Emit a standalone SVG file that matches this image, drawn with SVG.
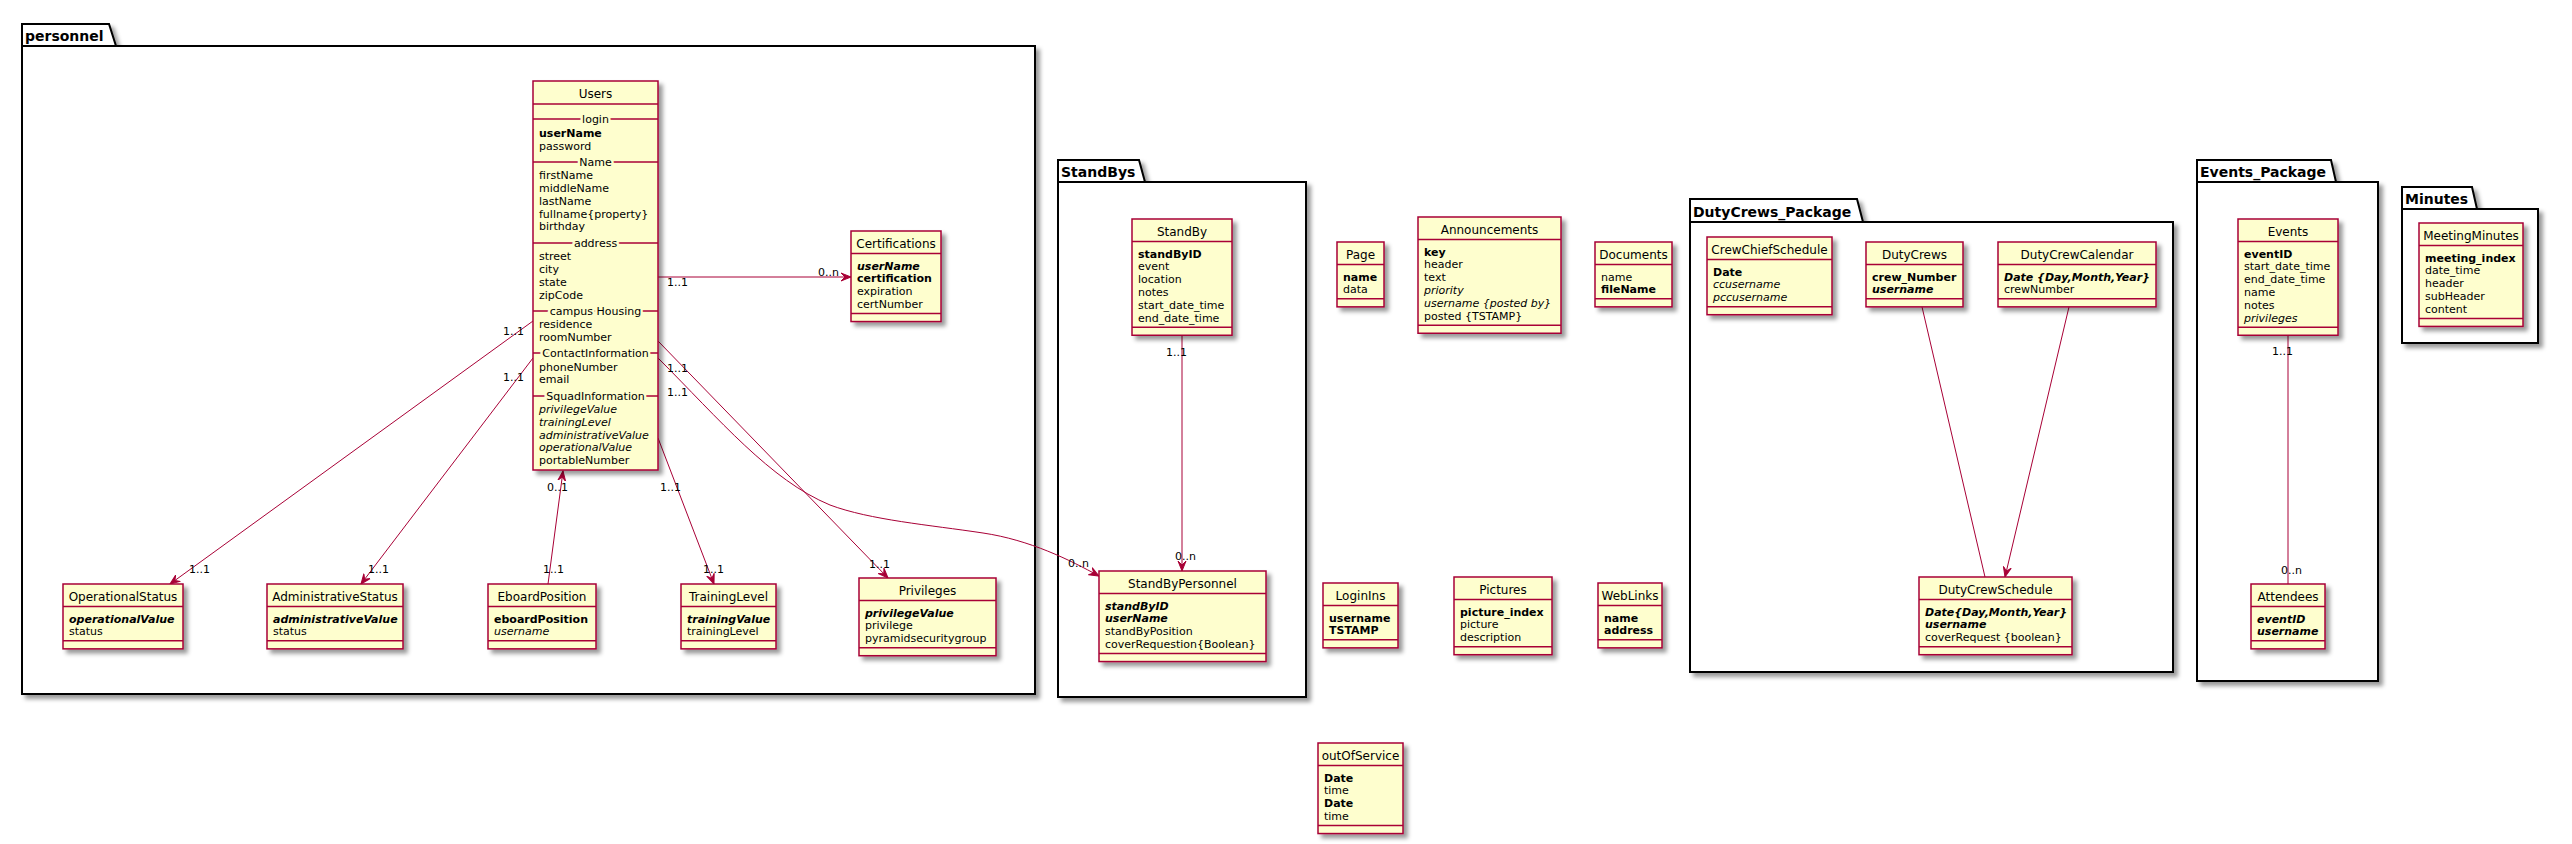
<svg xmlns="http://www.w3.org/2000/svg" width="2572" height="844" viewBox="0 0 2572 844">
<defs>
<filter id="sh" x="-10%" y="-10%" width="130%" height="130%">
<feGaussianBlur in="SourceAlpha" stdDeviation="2" result="b"/>
<feColorMatrix in="b" type="matrix" values="0 0 0 0 0 0 0 0 0 0 0 0 0 0 0 0 0 0 .4 0" result="b2"/>
<feOffset in="b2" dx="4" dy="4" result="b3"/>
<feBlend in="SourceGraphic" in2="b3" mode="normal"/>
</filter>
<marker id="ah" markerUnits="userSpaceOnUse" viewBox="0 0 12 10" markerWidth="12" markerHeight="10" refX="10" refY="5" orient="auto">
<path d="M10,5 L0,1 L4,5 L0,9 Z" fill="#A80036" stroke="#A80036" stroke-width="1"/>
</marker>
</defs>
<style>
text{font-family:"DejaVu Sans",Verdana,sans-serif;fill:#000}
.pk{fill:#FFFFFF;stroke:#000;stroke-width:2;filter:url(#sh)}
.pl{stroke:#000;stroke-width:2}
.pt{font-size:14px;font-weight:bold}
.c{fill:#FEFECE;stroke:#A80036;stroke-width:1.5;filter:url(#sh)}
.s{stroke:#A80036;stroke-width:1.5}
.h{font-size:12px;text-anchor:middle}
.a{font-size:11px}
.b{font-weight:bold}
.i{font-style:italic}
.sl{font-size:11px;text-anchor:middle;stroke:#FEFECE;stroke-width:5;paint-order:stroke}
.e{stroke:#A80036;stroke-width:1;fill:none}
.ar{marker-end:url(#ah)}
.l{font-size:11px}
</style>

<!-- packages -->
<g id="pkg-personnel">
<path class="pk" d="M22,24 H109 L116,46 H1035 V694 H22 Z"/>
<line class="pl" x1="22" y1="46" x2="116" y2="46"/>
<text class="pt" x="25" y="41">personnel</text>
</g>
<g id="pkg-StandBys">
<path class="pk" d="M1058,160 H1139 L1145,182 H1306 V697 H1058 Z"/>
<line class="pl" x1="1058" y1="182" x2="1145" y2="182"/>
<text class="pt" x="1061" y="177">StandBys</text>
</g>
<g id="pkg-DutyCrews_Package">
<path class="pk" d="M1690,199 H1857 L1863,222 H2173 V672 H1690 Z"/>
<line class="pl" x1="1690" y1="222" x2="1863" y2="222"/>
<text class="pt" x="1693" y="217">DutyCrews_Package</text>
</g>
<g id="pkg-Events_Package">
<path class="pk" d="M2197,160 H2331 L2336,182 H2378 V681 H2197 Z"/>
<line class="pl" x1="2197" y1="182" x2="2336" y2="182"/>
<text class="pt" x="2200" y="177">Events_Package</text>
</g>
<g id="pkg-Minutes">
<path class="pk" d="M2402,187 H2472 L2477,209 H2538 V343 H2402 Z"/>
<line class="pl" x1="2402" y1="209" x2="2477" y2="209"/>
<text class="pt" x="2405" y="204">Minutes</text>
</g>

<!-- connectors -->
<g id="connectors">
<line class="e ar" x1="658" y1="277" x2="851" y2="277"/>
<line class="e ar" x1="533" y1="321" x2="170" y2="584"/>
<line class="e ar" x1="533" y1="358" x2="361" y2="584"/>
<line class="e ar" x1="548" y1="584" x2="563" y2="471"/>
<line class="e ar" x1="658" y1="438" x2="714" y2="584"/>
<line class="e ar" x1="658" y1="341" x2="888" y2="578"/>
<path class="e ar" d="M658,358 C720,420 770,480 830,505 C870,520 930,525 983,533 C1030,540 1070,560 1099,576"/>
<line class="e ar" x1="1182" y1="335.25" x2="1182" y2="571"/>
<line class="e" x1="2288" y1="335.25" x2="2288" y2="584"/>
<line class="e" x1="1922" y1="306.85" x2="1985" y2="577"/>
<line class="e ar" x1="2069" y1="306.85" x2="2005" y2="577"/>
<text class="l" x="667" y="286">1..1</text>
<text class="l" x="818" y="276">0..n</text>
<text class="l" x="503" y="335">1..1</text>
<text class="l" x="189" y="573">1..1</text>
<text class="l" x="503" y="381">1..1</text>
<text class="l" x="368" y="573">1..1</text>
<text class="l" x="547" y="491">0..1</text>
<text class="l" x="543" y="573">1..1</text>
<text class="l" x="660" y="491">1..1</text>
<text class="l" x="703" y="573">1..1</text>
<text class="l" x="667" y="372">1..1</text>
<text class="l" x="869" y="568">1..1</text>
<text class="l" x="667" y="396">1..1</text>
<text class="l" x="1068" y="567">0..n</text>
<text class="l" x="1166" y="356">1..1</text>
<text class="l" x="1175" y="560">0..n</text>
<text class="l" x="2272" y="355">1..1</text>
<text class="l" x="2281" y="574">0..n</text>
</g>

<!-- Users -->
<g id="Users">
<rect class="c" x="533" y="81" width="125" height="389"/>
<line class="s" x1="533" y1="104" x2="658" y2="104"/>
<text class="h" x="595.5" y="97.5">Users</text>
<line class="s" x1="533" y1="119" x2="658" y2="119"/>
<line class="s" x1="533" y1="162" x2="658" y2="162"/>
<line class="s" x1="533" y1="243" x2="658" y2="243"/>
<line class="s" x1="533" y1="311" x2="658" y2="311"/>
<line class="s" x1="533" y1="353" x2="658" y2="353"/>
<line class="s" x1="533" y1="396" x2="658" y2="396"/>
<text class="sl" x="595.5" y="123">login</text>
<text class="sl" x="595.5" y="166">Name</text>
<text class="sl" x="595.5" y="247">address</text>
<text class="sl" x="595.5" y="315">campus Housing</text>
<text class="sl" x="595.5" y="357">ContactInformation</text>
<text class="sl" x="595.5" y="400">SquadInformation</text>
<text class="a b" x="539" y="137">userName</text>
<text class="a" x="539" y="150">password</text>
<text class="a" x="539" y="179">firstName</text>
<text class="a" x="539" y="192">middleName</text>
<text class="a" x="539" y="205">lastName</text>
<text class="a" x="539" y="218">fullname{property}</text>
<text class="a" x="539" y="230">birthday</text>
<text class="a" x="539" y="260">street</text>
<text class="a" x="539" y="273">city</text>
<text class="a" x="539" y="286">state</text>
<text class="a" x="539" y="299">zipCode</text>
<text class="a" x="539" y="328">residence</text>
<text class="a" x="539" y="341">roomNumber</text>
<text class="a" x="539" y="371">phoneNumber</text>
<text class="a" x="539" y="383">email</text>
<text class="a i" x="539" y="413">privilegeValue</text>
<text class="a i" x="539" y="426">trainingLevel</text>
<text class="a i" x="539" y="439">administrativeValue</text>
<text class="a i" x="539" y="451">operationalValue</text>
<text class="a" x="539" y="464">portableNumber</text>
</g>

<g id="Certifications">
<rect class="c" x="851" y="231" width="90" height="90.55"/>
<line class="s" x1="851" y1="253.5" x2="941" y2="253.5"/>
<line class="s" x1="851" y1="313.55" x2="941" y2="313.55"/>
<text class="h" x="896" y="247.5">Certifications</text>
<text class="a b i" x="857" y="269.5">userName</text>
<text class="a b" x="857" y="282.35">certification</text>
<text class="a" x="857" y="295.2">expiration</text>
<text class="a" x="857" y="308.05">certNumber</text>
</g>

<g id="OperationalStatus">
<rect class="c" x="63" y="584" width="120" height="64.85"/>
<line class="s" x1="63" y1="606.5" x2="183" y2="606.5"/>
<line class="s" x1="63" y1="640.85" x2="183" y2="640.85"/>
<text class="h" x="123" y="600.5">OperationalStatus</text>
<text class="a b i" x="69" y="622.5">operationalValue</text>
<text class="a" x="69" y="635.35">status</text>
</g>

<g id="AdministrativeStatus">
<rect class="c" x="267" y="584" width="136" height="64.85"/>
<line class="s" x1="267" y1="606.5" x2="403" y2="606.5"/>
<line class="s" x1="267" y1="640.85" x2="403" y2="640.85"/>
<text class="h" x="335" y="600.5">AdministrativeStatus</text>
<text class="a b i" x="273" y="622.5">administrativeValue</text>
<text class="a" x="273" y="635.35">status</text>
</g>

<g id="EboardPosition">
<rect class="c" x="488" y="584" width="108" height="64.85"/>
<line class="s" x1="488" y1="606.5" x2="596" y2="606.5"/>
<line class="s" x1="488" y1="640.85" x2="596" y2="640.85"/>
<text class="h" x="542" y="600.5">EboardPosition</text>
<text class="a b" x="494" y="622.5">eboardPosition</text>
<text class="a i" x="494" y="635.35">username</text>
</g>

<g id="TrainingLevel">
<rect class="c" x="681" y="584" width="95" height="64.85"/>
<line class="s" x1="681" y1="606.5" x2="776" y2="606.5"/>
<line class="s" x1="681" y1="640.85" x2="776" y2="640.85"/>
<text class="h" x="728.5" y="600.5">TrainingLevel</text>
<text class="a b i" x="687" y="622.5">trainingValue</text>
<text class="a" x="687" y="635.35">trainingLevel</text>
</g>

<g id="Privileges">
<rect class="c" x="859" y="578" width="137" height="77.7"/>
<line class="s" x1="859" y1="600.5" x2="996" y2="600.5"/>
<line class="s" x1="859" y1="647.7" x2="996" y2="647.7"/>
<text class="h" x="927.5" y="594.5">Privileges</text>
<text class="a b i" x="865" y="616.5">privilegeValue</text>
<text class="a" x="865" y="629.35">privilege</text>
<text class="a" x="865" y="642.2">pyramidsecuritygroup</text>
</g>

<g id="StandBy">
<rect class="c" x="1132" y="219" width="100" height="116.25"/>
<line class="s" x1="1132" y1="241.5" x2="1232" y2="241.5"/>
<line class="s" x1="1132" y1="327.25" x2="1232" y2="327.25"/>
<text class="h" x="1182" y="235.5">StandBy</text>
<text class="a b" x="1138" y="257.5">standByID</text>
<text class="a" x="1138" y="270.35">event</text>
<text class="a" x="1138" y="283.2">location</text>
<text class="a" x="1138" y="296.05">notes</text>
<text class="a" x="1138" y="308.9">start_date_time</text>
<text class="a" x="1138" y="321.75">end_date_time</text>
</g>

<g id="StandByPersonnel">
<rect class="c" x="1099" y="571" width="167" height="90.55"/>
<line class="s" x1="1099" y1="593.5" x2="1266" y2="593.5"/>
<line class="s" x1="1099" y1="653.55" x2="1266" y2="653.55"/>
<text class="h" x="1182.5" y="587.5">StandByPersonnel</text>
<text class="a b i" x="1105" y="609.5">standByID</text>
<text class="a b i" x="1105" y="622.35">userName</text>
<text class="a" x="1105" y="635.2">standByPosition</text>
<text class="a" x="1105" y="648.05">coverRequestion{Boolean}</text>
</g>

<g id="Page">
<rect class="c" x="1337" y="242" width="47" height="64.85"/>
<line class="s" x1="1337" y1="264.5" x2="1384" y2="264.5"/>
<line class="s" x1="1337" y1="298.85" x2="1384" y2="298.85"/>
<text class="h" x="1360.5" y="258.5">Page</text>
<text class="a b" x="1343" y="280.5">name</text>
<text class="a" x="1343" y="293.35">data</text>
</g>

<g id="Announcements">
<rect class="c" x="1418" y="217" width="143" height="116.25"/>
<line class="s" x1="1418" y1="239.5" x2="1561" y2="239.5"/>
<line class="s" x1="1418" y1="325.25" x2="1561" y2="325.25"/>
<text class="h" x="1489.5" y="233.5">Announcements</text>
<text class="a b" x="1424" y="255.5">key</text>
<text class="a" x="1424" y="268.35">header</text>
<text class="a" x="1424" y="281.2">text</text>
<text class="a i" x="1424" y="294.05">priority</text>
<text class="a i" x="1424" y="306.9">username {posted by}</text>
<text class="a" x="1424" y="319.75">posted {TSTAMP}</text>
</g>

<g id="Documents">
<rect class="c" x="1595" y="242" width="77" height="64.85"/>
<line class="s" x1="1595" y1="264.5" x2="1672" y2="264.5"/>
<line class="s" x1="1595" y1="298.85" x2="1672" y2="298.85"/>
<text class="h" x="1633.5" y="258.5">Documents</text>
<text class="a" x="1601" y="280.5">name</text>
<text class="a b" x="1601" y="293.35">fileName</text>
</g>

<g id="LoginIns">
<rect class="c" x="1323" y="583" width="75" height="64.85"/>
<line class="s" x1="1323" y1="605.5" x2="1398" y2="605.5"/>
<line class="s" x1="1323" y1="639.85" x2="1398" y2="639.85"/>
<text class="h" x="1360.5" y="599.5">LoginIns</text>
<text class="a b" x="1329" y="621.5">username</text>
<text class="a b" x="1329" y="634.35">TSTAMP</text>
</g>

<g id="Pictures">
<rect class="c" x="1454" y="577" width="98" height="77.7"/>
<line class="s" x1="1454" y1="599.5" x2="1552" y2="599.5"/>
<line class="s" x1="1454" y1="646.7" x2="1552" y2="646.7"/>
<text class="h" x="1503" y="593.5">Pictures</text>
<text class="a b" x="1460" y="615.5">picture_index</text>
<text class="a" x="1460" y="628.35">picture</text>
<text class="a" x="1460" y="641.2">description</text>
</g>

<g id="WebLinks">
<rect class="c" x="1598" y="583" width="64" height="64.85"/>
<line class="s" x1="1598" y1="605.5" x2="1662" y2="605.5"/>
<line class="s" x1="1598" y1="639.85" x2="1662" y2="639.85"/>
<text class="h" x="1630" y="599.5">WebLinks</text>
<text class="a b" x="1604" y="621.5">name</text>
<text class="a b" x="1604" y="634.35">address</text>
</g>

<g id="outOfService">
<rect class="c" x="1318" y="743" width="85" height="90.55"/>
<line class="s" x1="1318" y1="765.5" x2="1403" y2="765.5"/>
<line class="s" x1="1318" y1="825.55" x2="1403" y2="825.55"/>
<text class="h" x="1360.5" y="759.5">outOfService</text>
<text class="a b" x="1324" y="781.5">Date</text>
<text class="a" x="1324" y="794.35">time</text>
<text class="a b" x="1324" y="807.2">Date</text>
<text class="a" x="1324" y="820.05">time</text>
</g>

<g id="CrewChiefSchedule">
<rect class="c" x="1707" y="237" width="125" height="77.7"/>
<line class="s" x1="1707" y1="259.5" x2="1832" y2="259.5"/>
<line class="s" x1="1707" y1="306.7" x2="1832" y2="306.7"/>
<text class="h" x="1769.5" y="253.5">CrewChiefSchedule</text>
<text class="a b" x="1713" y="275.5">Date</text>
<text class="a i" x="1713" y="288.35">ccusername</text>
<text class="a i" x="1713" y="301.2">pccusername</text>
</g>

<g id="DutyCrews">
<rect class="c" x="1866" y="242" width="97" height="64.85"/>
<line class="s" x1="1866" y1="264.5" x2="1963" y2="264.5"/>
<line class="s" x1="1866" y1="298.85" x2="1963" y2="298.85"/>
<text class="h" x="1914.5" y="258.5">DutyCrews</text>
<text class="a b" x="1872" y="280.5">crew_Number</text>
<text class="a b i" x="1872" y="293.35">username</text>
</g>

<g id="DutyCrewCalendar">
<rect class="c" x="1998" y="242" width="158" height="64.85"/>
<line class="s" x1="1998" y1="264.5" x2="2156" y2="264.5"/>
<line class="s" x1="1998" y1="298.85" x2="2156" y2="298.85"/>
<text class="h" x="2077" y="258.5">DutyCrewCalendar</text>
<text class="a b i" x="2004" y="280.5">Date {Day,Month,Year}</text>
<text class="a" x="2004" y="293.35">crewNumber</text>
</g>

<g id="DutyCrewSchedule">
<rect class="c" x="1919" y="577" width="153" height="77.7"/>
<line class="s" x1="1919" y1="599.5" x2="2072" y2="599.5"/>
<line class="s" x1="1919" y1="646.7" x2="2072" y2="646.7"/>
<text class="h" x="1995.5" y="593.5">DutyCrewSchedule</text>
<text class="a b i" x="1925" y="615.5">Date{Day,Month,Year}</text>
<text class="a b i" x="1925" y="628.35">username</text>
<text class="a" x="1925" y="641.2">coverRequest {boolean}</text>
</g>

<g id="Events">
<rect class="c" x="2238" y="219" width="100" height="116.25"/>
<line class="s" x1="2238" y1="241.5" x2="2338" y2="241.5"/>
<line class="s" x1="2238" y1="327.25" x2="2338" y2="327.25"/>
<text class="h" x="2288" y="235.5">Events</text>
<text class="a b" x="2244" y="257.5">eventID</text>
<text class="a" x="2244" y="270.35">start_date_time</text>
<text class="a" x="2244" y="283.2">end_date_time</text>
<text class="a" x="2244" y="296.05">name</text>
<text class="a" x="2244" y="308.9">notes</text>
<text class="a i" x="2244" y="321.75">privileges</text>
</g>

<g id="Attendees">
<rect class="c" x="2251" y="584" width="74" height="64.85"/>
<line class="s" x1="2251" y1="606.5" x2="2325" y2="606.5"/>
<line class="s" x1="2251" y1="640.85" x2="2325" y2="640.85"/>
<text class="h" x="2288" y="600.5">Attendees</text>
<text class="a b i" x="2257" y="622.5">eventID</text>
<text class="a b i" x="2257" y="635.35">username</text>
</g>

<g id="MeetingMinutes">
<rect class="c" x="2419" y="223" width="104" height="103.4"/>
<line class="s" x1="2419" y1="245.5" x2="2523" y2="245.5"/>
<line class="s" x1="2419" y1="318.4" x2="2523" y2="318.4"/>
<text class="h" x="2471" y="239.5">MeetingMinutes</text>
<text class="a b" x="2425" y="261.5">meeting_index</text>
<text class="a" x="2425" y="274.35">date_time</text>
<text class="a" x="2425" y="287.2">header</text>
<text class="a" x="2425" y="300.05">subHeader</text>
<text class="a" x="2425" y="312.9">content</text>
</g>
</svg>
